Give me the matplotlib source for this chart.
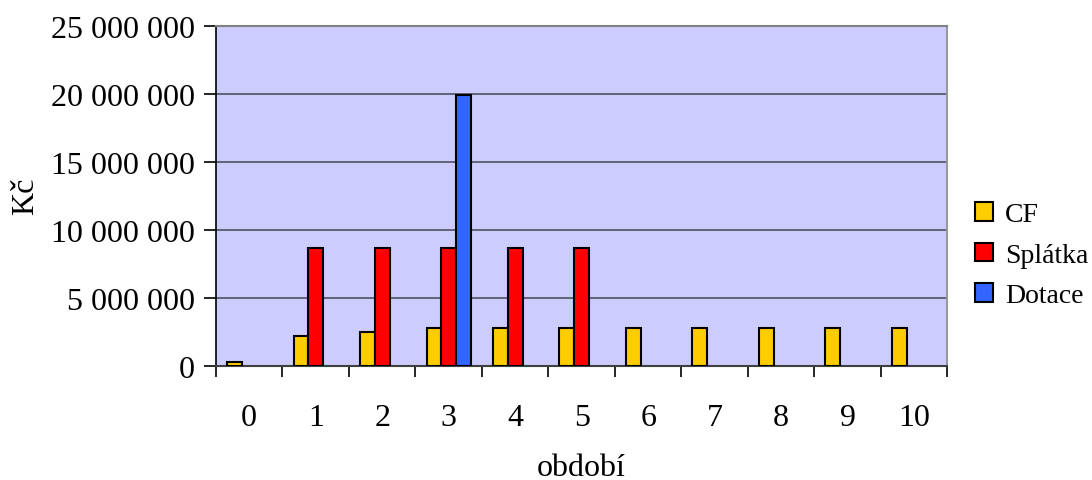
import numpy as np
import matplotlib.pyplot as plt
from matplotlib.ticker import FuncFormatter, FixedLocator

# data
obdobi = [0, 1, 2, 3, 4, 5, 6, 7, 8, 9, 10]
cf = [290000, 2200000, 2480000, 2790000, 2790000, 2790000, 2790000, 2790000, 2790000, 2790000, 2790000]
splatka = [0, 8650000, 8650000, 8650000, 8650000, 8650000, 0, 0, 0, 0, 0]
dotace = [0, 0, 0, 19880000, 0, 0, 0, 0, 0, 0, 0]

plt.rcParams['font.family'] = ['Liberation Serif', 'DejaVu Serif']
fs = 23

fig = plt.figure(figsize=(10.92, 4.81), dpi=100)
ax = fig.add_axes([0.1978, 0.2376, 0.6697, 0.7069])
ax.set_facecolor('#CCCCFF')

x = np.arange(len(obdobi))
w = 1 / 4.5
for i, (vals, col, lab) in enumerate([(cf, '#FFCC00', 'CF'),
                                      (splatka, '#FF0000', 'Splátka'),
                                      (dotace, '#3366FF', 'Dotace')]):
    v = np.array(vals, dtype=float)
    ax.bar(x + (i - 1) * w, np.where(v > 0, v, np.nan), width=w, color=col,
           edgecolor='black', linewidth=1.5, label=lab, zorder=3)

ax.set_xlim(-0.5, 10.5)
ax.set_ylim(0, 25000000)
ax.set_yticks(np.arange(0, 25000001, 5000000))
ax.yaxis.set_major_formatter(FuncFormatter(lambda v, p: f"{int(v):,}".replace(",", " ")))
ax.grid(axis='y', color='#505060', linewidth=1.2, zorder=1)

ax.set_xticks(x)
ax.set_xticklabels([str(o) for o in obdobi])
ax.xaxis.set_minor_locator(FixedLocator(np.arange(-0.5, 11, 1)))
ax.tick_params(axis='x', which='major', length=0, pad=27, labelsize=fs)
ax.tick_params(axis='x', which='minor', length=8, width=1.2, color='black', direction='out')
ax.tick_params(axis='y', length=9, width=1.2, labelsize=fs, pad=6)

ax.spines['left'].set_color('black')
ax.spines['left'].set_linewidth(1.2)
ax.spines['bottom'].set_color('#404040')
ax.spines['bottom'].set_linewidth(1.5)
ax.spines['top'].set_color('#808080')
ax.spines['top'].set_linewidth(1.5)
ax.spines['right'].set_color('#999999')
ax.spines['right'].set_linewidth(1.5)

ax.set_ylabel('Kč', fontsize=fs, labelpad=8)
ax.set_xlabel('období', fontsize=fs, labelpad=15)

fig.legend(loc='center left', bbox_to_anchor=(0.893, 0.467), frameon=False,
           fontsize=20, handlelength=0.65, handleheight=0.65, handletextpad=0.43,
           labelspacing=0.56, borderpad=0, borderaxespad=0)

fig.savefig('out.png', dpi=100)
